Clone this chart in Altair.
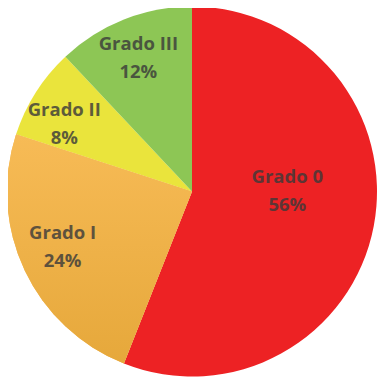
import altair as alt
import pandas as pd

categorias = ["Grado 0", "Grado I", "Grado II", "Grado III"]
valores = [56, 24, 8, 12]
etiquetas = ["56%", "24%", "8%", "12%"]
colores = ["#ED2224", "#F5B64F", "#EAE43C", "#8DC655"]

df = pd.DataFrame({
    "categoria": categorias,
    "valor": valores,
    "pct": etiquetas,
    "orden": list(range(len(categorias))),
})

CX, CY, R = 184, 183.5, 185

theta = alt.Theta("valor:Q", stack=True)
order = alt.Order("orden:Q", sort="ascending")

base = alt.Chart(df)

arcs = base.mark_arc(radius=R, stroke=None).encode(
    theta=theta,
    order=order,
    color=alt.Color("categoria:N", scale=alt.Scale(domain=categorias, range=colores), legend=None),
    x=alt.value(CX),
    y=alt.value(CY),
)

grad = base.mark_arc(
    radius=R,
    fill=alt.Gradient(
        gradient="linear",
        stops=[alt.GradientStop(color="#F7BB56", offset=0), alt.GradientStop(color="#E6A83B", offset=1)],
        x1=0, x2=0, y1=0, y2=1,
    ),
).encode(
    theta=theta,
    order=order,
    opacity=alt.condition(alt.datum.categoria == "Grado I", alt.value(1), alt.value(0)),
    x=alt.value(CX),
    y=alt.value(CY),
)

label_base = base.transform_window(
    cum="sum(valor)", sort=[alt.SortField("orden", order="ascending")]
).transform_joinaggregate(
    total="sum(valor)"
).transform_calculate(
    label="datum.categoria + '\\n' + datum.pct",
    mid="(datum.cum - datum.valor / 2) / datum.total * 2 * PI",
)

text_style = dict(
    font="Open Sans", fontWeight="bold", fontSize=18.5, color="#3A3A3A", opacity=0.8,
    lineBreak="\n", lineHeight=28, align="center", baseline="middle",
)


def label_layer(cat, radius, dx, dy):
    return label_base.transform_filter(
        alt.datum.categoria == cat
    ).mark_text(radius=radius, dx=dx, dy=dy, **text_style).encode(
        theta=alt.Theta("mid:Q", scale=None, stack=None),
        text="label:N",
        x=alt.value(CX),
        y=alt.value(CY),
    )


labels = [
    label_layer("Grado 0", 97, 0, -33),
    label_layer("Grado I", 143, 0, -19),
    label_layer("Grado II", 143, -7, -5),
    label_layer("Grado III", 143, -1, -15),
]

chart = alt.layer(arcs, grad, *labels).properties(
    width=374, height=369, autosize="none", padding=0
).configure_view(stroke=None)

chart.save("out.html", embed_options={"renderer": "svg", "actions": False})
